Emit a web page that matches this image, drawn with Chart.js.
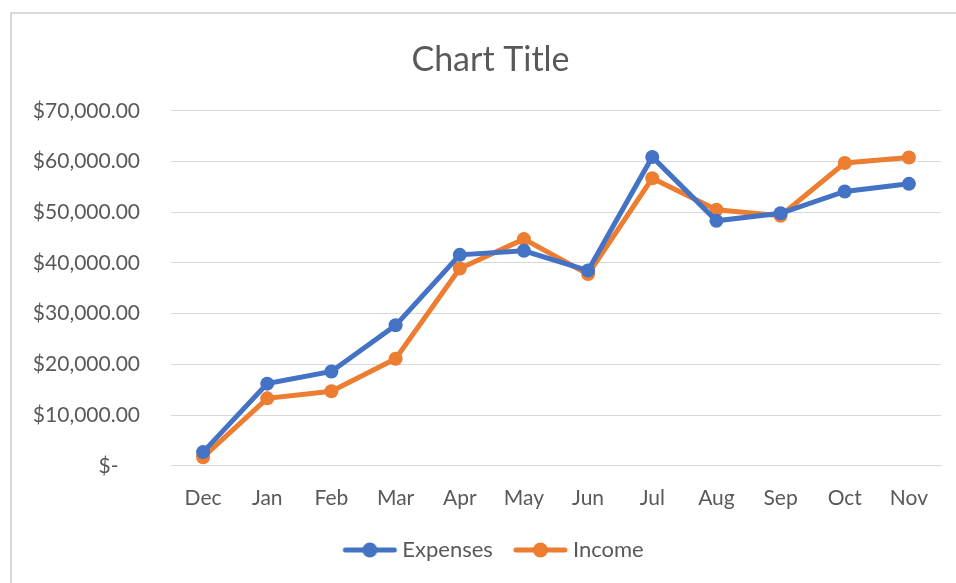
<!DOCTYPE html>
<html>
<head>
<meta charset="utf-8">
<script src="https://cdn.jsdelivr.net/npm/chart.js@4/dist/chart.umd.min.js"></script>
<style>
  html, body { margin: 0; padding: 0; background: #fff; }
  #wrap { width: 956px; height: 583px; position: relative; }
</style>
</head>
<body>
<div id="wrap"><canvas id="myChart" width="956" height="583"></canvas></div>
<script>
const months = ["Dec", "Jan", "Feb", "Mar", "Apr", "May", "Jun", "Jul", "Aug", "Sep", "Oct", "Nov"];
const expenses = [2700, 16200, 18600, 27700, 41600, 42400, 38500, 60900, 48300, 49800, 54100, 55600];
const income = [1700, 13300, 14700, 21100, 38900, 44700, 37800, 56700, 50500, 49300, 59700, 60800];
const yTicks = [0, 10000, 20000, 30000, 40000, 50000, 60000, 70000];

const BLUE = "#4472C4";
const ORANGE = "#ED7D31";
const FONT = "Lato, 'Open Sans', sans-serif";

// legend marker: line with a dot; drawn wider than the legend box so the
// gap to the label stays small like in the office style
function legendMarker(color) {
  const c = document.createElement("canvas");
  c.width = 120;
  c.height = 16;
  const g = c.getContext("2d");
  g.strokeStyle = color;
  g.lineWidth = 5;
  g.lineCap = "round";
  g.beginPath();
  g.moveTo(44, 8);
  g.lineTo(93, 8);
  g.stroke();
  g.fillStyle = color;
  g.beginPath();
  g.arc(68.5, 8, 7.5, 0, Math.PI * 2);
  g.fill();
  return c;
}

function money(v) {
  if (v === 0) return "$-    ";
  return "$" + v.toLocaleString("en-US", { minimumFractionDigits: 2, maximumFractionDigits: 2 });
}

// light gray frame (left and top edges visible in the picture)
const framePlugin = {
  id: "frame",
  beforeDraw(chart) {
    const ctx = chart.ctx;
    ctx.save();
    ctx.fillStyle = "#fff";
    ctx.fillRect(0, 0, chart.width, chart.height);
    ctx.strokeStyle = "#d9d9d9";
    ctx.lineWidth = 2;
    ctx.beginPath();
    ctx.moveTo(11, chart.height + 5);
    ctx.lineTo(11, 13);
    ctx.lineTo(chart.width + 5, 13);
    ctx.stroke();
    ctx.restore();
  },
};

// title and legend are centred a bit right of the full width in the original
const centerShift = {
  id: "centerShift",
  afterLayout(chart) {
    if (chart.titleBlock) chart.titleBlock.left += 30;
    if (chart.legend) {
      chart.legend.left += 24;
      chart.legend.top -= 1;
    }
  },
};

const ctx = document.getElementById("myChart").getContext("2d");

new Chart(ctx, {
  type: "line",
  data: {
    labels: months,
    datasets: [
      {
        label: "Expenses",
        data: expenses,
        borderColor: BLUE,
        backgroundColor: BLUE,
        borderWidth: 5,
        pointRadius: 7,
        pointHoverRadius: 7,
        pointBorderWidth: 0,
        pointStyle: "circle",
        tension: 0,
      },
      {
        label: "Income",
        data: income,
        borderColor: ORANGE,
        backgroundColor: ORANGE,
        borderWidth: 5,
        pointRadius: 7,
        pointHoverRadius: 7,
        pointBorderWidth: 0,
        pointStyle: "circle",
        tension: 0,
      },
    ],
  },
  options: {
    responsive: false,
    animation: false,
    layout: { padding: { left: 10, right: 15, top: 40, bottom: 11 } },
    plugins: {
      title: {
        display: true,
        text: "Chart Title",
        color: "#595959",
        font: { family: FONT, size: 34, weight: "normal" },
        padding: { top: 0, bottom: 30 },
      },
      legend: {
        position: "bottom",
        labels: {
          usePointStyle: true,
          pointStyleWidth: 60,
          color: "#595959",
          font: { family: FONT, size: 22 },
          padding: 9,
          generateLabels(chart) {
            return chart.data.datasets.map((ds, i) => ({
              text: ds.label,
              pointStyle: legendMarker(ds.borderColor),
              fillStyle: ds.borderColor,
              strokeStyle: ds.borderColor,
              lineWidth: 0,
              fontColor: "#595959",
              datasetIndex: i,
              hidden: false,
            }));
          },
        },
      },
      tooltip: { enabled: false },
    },
    scales: {
      x: {
        offset: true,
        grid: { display: false, drawTicks: false },
        border: { display: true, color: "#d9d9d9", width: 1 },
        ticks: {
          color: "#595959",
          font: { family: FONT, size: 21 },
          padding: 20,
          maxRotation: 0,
        },
      },
      y: {
        min: 0,
        max: 70000,
        afterBuildTicks(scale) {
          scale.ticks = yTicks.map((v) => ({ value: v }));
        },
        afterFit(scale) {
          scale.width = 161;
        },
        grid: { color: "#d9d9d9", lineWidth: 1, drawTicks: false },
        border: { display: false },
        ticks: {
          color: "#595959",
          font: { family: FONT, size: 21 },
          padding: 31,
          callback: (v) => money(v),
        },
      },
    },
  },
  plugins: [framePlugin, centerShift],
});
</script>
</body>
</html>
